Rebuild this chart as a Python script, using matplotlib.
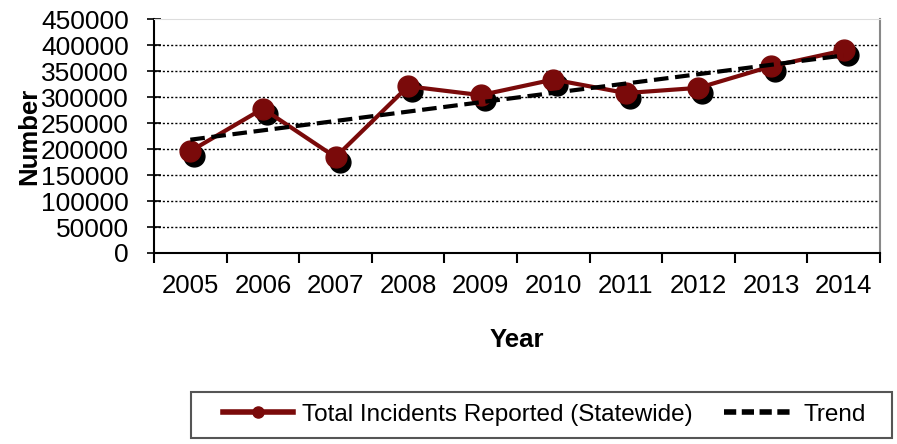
import numpy as np
import matplotlib.pyplot as plt
import matplotlib.transforms as mtransforms
from matplotlib.lines import Line2D
from matplotlib.patches import Rectangle

years = ['2005', '2006', '2007', '2008', '2009', '2010', '2011', '2012', '2013', '2014']
incidents = [196000, 278000, 184500, 321000, 304000, 334000, 308000, 318000, 359500, 390000]
yticks = [0, 50000, 100000, 150000, 200000, 250000, 300000, 350000, 400000, 450000]

plt.rcParams['font.family'] = ['Liberation Sans', 'DejaVu Sans']

red = '#7a0a0a'
fig = plt.figure(figsize=(8.97, 4.44), dpi=100)
ax = fig.add_axes([0.1717, 0.4302, 0.8093, 0.5263])

x = np.arange(len(years))

# linear trend through the reported values
coef = np.polyfit(x, incidents, 1)
trend = np.polyval(coef, x)

# marker shadows, offset down-right
shadow = mtransforms.offset_copy(ax.transData, fig=fig, x=4, y=-5, units='dots')
ax.plot(x, incidents, 'o', color='black', markersize=15, transform=shadow, zorder=3)

ax.plot(x, incidents, '-o', color=red, lw=3, markersize=15, zorder=4)
ax.plot(x, trend, '--', color='black', lw=3, dashes=(3.5, 1.6), zorder=5)

ax.set_xlim(-0.5, len(years) - 0.5)
ax.set_ylim(0, 450000)
ax.set_yticks(yticks)
ax.set_yticklabels([str(v) for v in yticks])
for v in yticks[1:-1]:
    ax.axhline(v, color='black', lw=1, ls=(0, (1.5, 1.5)), zorder=1)

ax.set_xticks(x)
ax.set_xticklabels(years)
ax.set_xticks(np.arange(-0.5, len(years)), minor=True)
ax.tick_params(axis='x', which='major', length=0, labelsize=18.5, pad=15)
ax.tick_params(axis='x', which='minor', length=7, width=1.5, direction='out')
ax.tick_params(axis='y', length=9.4, width=1.2, direction='inout', labelsize=19, pad=13.5)

for s in ['left', 'bottom']:
    ax.spines[s].set_linewidth(1.5)
ax.spines['right'].set_color('#888888')
ax.spines['right'].set_linewidth(1.5)
ax.spines['top'].set_color('#dddddd')

ax.set_xlabel('Year', fontsize=18.5, fontweight='bold', labelpad=22)
ax.set_ylabel('Number', fontsize=18.5, fontweight='bold')
ax.yaxis.set_label_coords(-0.156, 0.5)

# legend, with its own frame drawn as in the reference
h1 = Line2D([], [], color=red, lw=4, marker='o', markersize=8)
h2 = Line2D([], [], color='black', lw=4, ls='--', dashes=(2.2, 1.0))
fig.legend([h1, h2], ['Total Incidents Reported (Statewide)', 'Trend'],
           loc='center left', bbox_to_anchor=(0.2486, 0.066), ncol=2,
           fontsize=17.5, frameon=False, borderpad=0, borderaxespad=0,
           handlelength=2.9, handletextpad=0.35, columnspacing=1.3)
fig.patches.append(Rectangle((0.2129, 0.0135), 0.7815, 0.1036, transform=fig.transFigure,
                             fill=False, edgecolor='#555555', lw=1.5))

fig.savefig('out.png', dpi=100)
